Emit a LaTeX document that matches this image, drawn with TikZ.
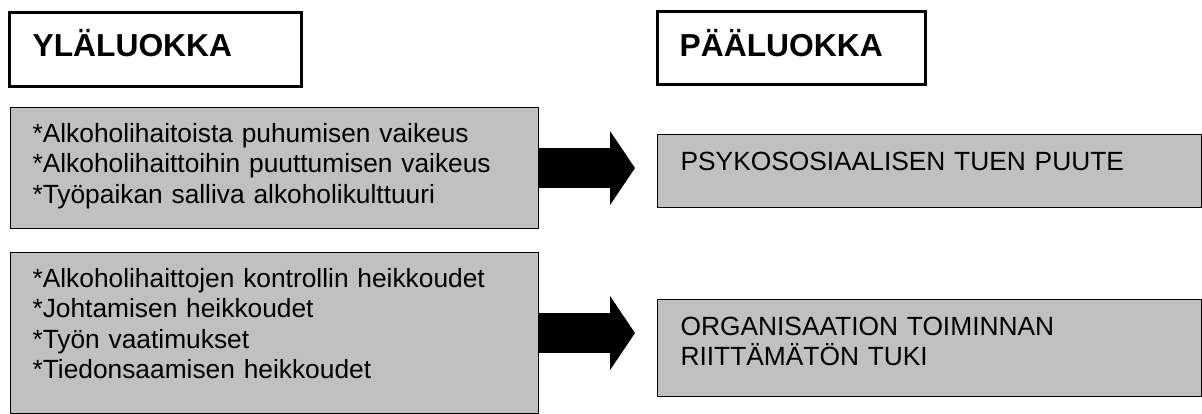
\documentclass[tikz,border=0pt]{standalone}
\usepackage{fontspec}
\setmainfont{Liberation Sans}
\usetikzlibrary{arrows.meta,positioning}
\definecolor{boxgray}{HTML}{C0C0C0}

\begin{document}
\begin{tikzpicture}[x=0.45pt,y=-0.45pt,
        head/.style={draw, line width=1.35pt, anchor=north west, inner ysep=0pt,
            font=\fontsize{14.3pt}{16pt}\selectfont\bfseries, align=left},
        item/.style={draw, fill=boxgray, line width=0.5pt, anchor=north west, inner ysep=0pt,
            font=\fontsize{11.85pt}{13.7pt}\selectfont, align=left},
        block/.style={line width=18pt, -{Triangle[width=32.85pt,length=11.25pt]}, shorten >=9.9pt}]
            \useasboundingbox (0,0) rectangle (1202,414);
            % headings
            \node[head, inner xsep=10.4pt, text width=110.6pt, text height=19.8pt, text depth=13.5pt]
                (upper_head) at (8,11) {YLÄLUOKKA};
            \node[head, inner xsep=10pt, text width=100.6pt, text height=20.25pt, text depth=12.6pt]
                (main_head) at (656,10) {PÄÄLUOKKA};
            % left column
            \node[item, inner xsep=9.9pt, text width=217.8pt, text height=15.75pt, text depth=38.7pt]
                (upper_1) at (10,107) {*Alkoholihaitoista puhumisen vaikeus\\{}*Alkoholihaittoihin puuttumisen vaikeus\\{}*Työpaikan salliva alkoholikulttuuri};
            \node[item, inner xsep=9.9pt, text width=217.8pt, text height=15.75pt, text depth=56.7pt]
                (upper_2) at (10,252) {*Alkoholihaittojen kontrollin heikkoudet\\{}*Johtamisen heikkoudet\\{}*Työn vaatimukset\\{}*Tiedonsaamisen heikkoudet};
            % right column
            \node[item, inner xsep=10.35pt, text width=224.1pt, text height=16.2pt, text depth=16.65pt]
                (main_1) at (657,134) {PSYKOSOSIAALISEN TUEN PUUTE};
            \node[item, inner xsep=10.35pt, text width=224.1pt, text height=16.2pt, text depth=27.45pt]
                (main_2) at (657,299) {ORGANISAATION TOIMINNAN\\RIITTÄMÄTÖN TUKI};
            % arrows
            \draw[block] (upper_1.east) -- (upper_1.east -| main_1.west);
            \draw[block] (upper_2.east) -- (upper_2.east -| main_2.west);
        \end{tikzpicture}
\end{document}
